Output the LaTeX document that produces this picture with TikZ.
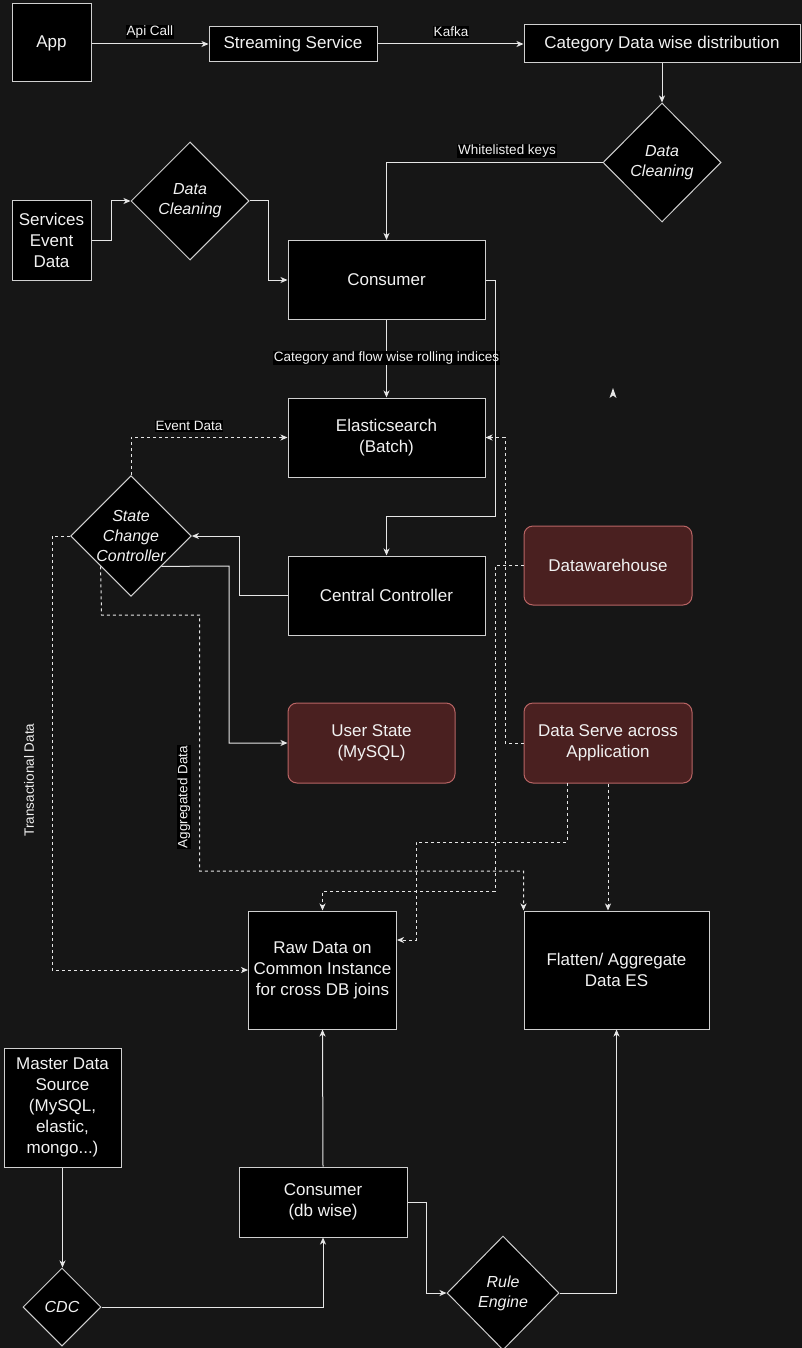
\documentclass[tikz,border=0pt]{standalone}
\usepackage{fontspec}
\setmainfont{Liberation Sans}
\usetikzlibrary{shapes.geometric,arrows.meta,calc}
\definecolor{bgc}{HTML}{161616}
\definecolor{edgec}{HTML}{E6E6E6}
\definecolor{boxline}{HTML}{D0D0D0}
\definecolor{redfill}{HTML}{4A2020}
\definecolor{redline}{HTML}{B86464}
\definecolor{txt}{HTML}{F2F2F2}
\begin{document}
\begin{tikzpicture}[x=1pt,y=-1pt,
 box/.style={draw=boxline, fill=black, line width=1pt, inner sep=0pt, text=txt, font=\fontsize{17}{21}\selectfont, align=center},
 rbox/.style={box, draw=redline, fill=redfill, rounded corners=9pt},
 dia/.style={diamond, draw=boxline, fill=black, line width=1pt, inner sep=0pt, text=txt, font=\fontsize{16}{20}\selectfont\itshape, align=center},
 con/.style={draw=edgec, line width=1pt, -{Stealth[length=7pt,width=6pt,inset=2pt]}},
 dcon/.style={con, dash pattern=on 3pt off 3pt},
 lbl/.style={fill=black, text=txt, font=\fontsize{13.5}{16}\selectfont, inner sep=1pt},
 plbl/.style={text=txt, font=\fontsize{13.5}{16}\selectfont, inner sep=1pt},
]
\fill[bgc] (0,0) rectangle (802,1348);
\useasboundingbox (0,0) rectangle (802,1348);

% boxes
\node[box, minimum width=79pt, minimum height=78pt] (app) at (51.5,43) {App};
\node[box, minimum width=168pt, minimum height=35pt] (stream) at (293,44) {Streaming Service};
\node[box, minimum width=276pt, minimum height=38pt] (cat) at (662,44) {Category Data wise distribution};
\node[dia, minimum width=118pt, minimum height=119pt] (dc2) at (662,162.5) {Data\\Cleaning};
\node[box, minimum width=79pt, minimum height=79pt] (svc) at (51.5,240.5) {Services\\Event\\Data};
\node[dia, minimum width=118pt, minimum height=118pt] (dc1) at (190,201) {Data\\Cleaning};
\node[box, minimum width=197pt, minimum height=79pt] (cons) at (386.5,280) {Consumer};
\node[box, minimum width=197pt, minimum height=79pt] (es) at (386.5,437.5) {Elasticsearch\\(Batch)};
\node[dia, minimum width=118pt, minimum height=120pt] (scc) at (131,536) {State\\Change\\Controller};
\node[box, minimum width=197pt, minimum height=79pt] (cc) at (386.5,595.5) {Central Controller};
\node[rbox, minimum width=167pt, minimum height=80pt] (user) at (371.5,743) {User State\\(MySQL)};
\node[rbox, minimum width=168pt, minimum height=79pt] (dw) at (608,565.5) {Datawarehouse};
\node[rbox, minimum width=168pt, minimum height=80pt] (dsa) at (608,743) {Data Serve across\\Application};
\node[box, minimum width=148pt, minimum height=118pt] (raw) at (322.5,970) {Raw Data on\\Common Instance\\for cross DB joins};
\node[box, minimum width=185pt, minimum height=118pt] (flat) at (616.5,970) {Flatten/ Aggregate\\Data ES};
\node[box, minimum width=117pt, minimum height=119pt] (mds) at (62.5,1107.5) {Master Data\\Source\\(MySQL,\\elastic,\\mongo...)};
\node[box, minimum width=168pt, minimum height=70pt] (cdb) at (323,1202) {Consumer\\(db wise)};
\node[dia, minimum width=78pt, minimum height=78pt] (cdc) at (62,1307) {CDC};
\node[dia, minimum width=112pt, minimum height=114pt] (rule) at (503,1293) {Rule\\Engine};

% connectors
\draw[con] (app.east |- stream.west) -- (stream.west);
\node[lbl] at (150,32) {Api Call};
\draw[con] (stream.east) -- (cat.west);
\node[lbl] at (451,32) {Kafka};
\draw[con] (cat.south) -- (dc2.north);
\draw[con] (dc2.west) -| (cons.north);
\node[lbl] at (507,151) {Whitelisted keys};
\draw[con] (svc.east) -- (111,240.5) |- (dc1.west);
\draw[con] (dc1.east) -- (268.5,201) |- (cons.west);
\draw[con] (cons.south) -- node[lbl, pos=0.49] {Category and flow wise rolling indices} (es.north);
\draw[con] (cons.east) -- (495,280) -- (495,516) -| (cc.north);
\draw[dcon] (scc.north) |- (es.west);
\node[lbl] at (189,426) {Event Data};
\draw[con] (cc.west) -- (239,595.5) |- (scc.east);
\coordinate (sccse) at ($(scc.east)!0.5!(scc.south)$);
\coordinate (sccsw) at ($(scc.west)!0.5!(scc.south)$);
\draw[con] (sccse) -- (229,566) |- (user.west);
\draw[dcon] (scc.west) -- (52,536) |- (raw.west);
\node[plbl, rotate=90] at (29,780) {Transactional Data};
\draw[dcon] (sccsw) -- (101.5,615) -- (199.5,615) -- (199.5,871) -| (flat.north west);
\node[lbl, rotate=90] at (184,797) {Aggregated Data};
\draw[dcon] (dw.west) -- (495,565.5) -- (495,891) -| (raw.north);
\draw[dcon] (dsa.west) -- (505,743) |- (es.east);
\coordinate (dsab) at (567,783);
\draw[dcon] (dsab) -- (567,842) -- (416,842) |- (raw.east |- 0,940);
\draw[dcon] (dsa.south) -- (dsa.south |- flat.north);
\draw[con] (mds.south) -- (mds.south |- cdc.north);
\draw[con] (cdc.east) -| (cdb.south);
\draw[con] (cdb.north) -- (raw.south);
\draw[con] (cdb.east) -- (426,1202) |- (rule.west);
\draw[con] (rule.east) -| (flat.south);
% stray arrowhead
\fill[edgec] (613,388) -- (616.5,398) -- (613,395.5) -- (609.5,398) -- cycle;
\end{tikzpicture}
\end{document}
